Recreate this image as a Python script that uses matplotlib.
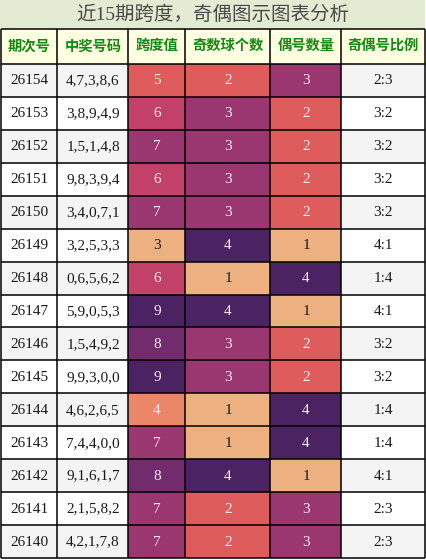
import numpy as np
import matplotlib
matplotlib.use("Agg")
import matplotlib.pyplot as plt
from matplotlib.patches import Rectangle
import seaborn as sns

periods = ["26154", "26153", "26152", "26151", "26150", "26149", "26148", "26147",
           "26146", "26145", "26144", "26143", "26142", "26141", "26140"]
draws = ["4,7,3,8,6", "3,8,9,4,9", "1,5,1,4,8", "9,8,3,9,4", "3,4,0,7,1",
         "3,2,5,3,3", "0,6,5,6,2", "5,9,0,5,3", "1,5,4,9,2", "9,9,3,0,0",
         "4,6,2,6,5", "7,4,4,0,0", "9,1,6,1,7", "2,1,5,8,2", "4,2,1,7,8"]
span = [5, 6, 7, 6, 7, 3, 6, 9, 8, 9, 4, 7, 8, 7, 7]
odd_cnt = [2, 3, 3, 3, 3, 4, 1, 4, 3, 3, 1, 1, 4, 2, 2]
even_cnt = [3, 2, 2, 2, 2, 1, 4, 1, 2, 2, 4, 4, 1, 3, 3]
ratio = ["2:3", "3:2", "3:2", "3:2", "3:2", "4:1", "1:4", "4:1",
         "3:2", "3:2", "1:4", "1:4", "4:1", "2:3", "2:3"]
headers = ["期次号", "中奖号码", "跨度值", "奇数球个数", "偶号数量", "奇偶号比例"]
title = "近15期跨度，奇偶图示图表分析"

W, H = 427, 560
fig = plt.figure(figsize=(W / 100, H / 100), dpi=100)
ax = fig.add_axes([0, 0, 1, 1])
ax.set_xlim(0, W)
ax.set_ylim(H, 0)
ax.axis("off")

col_x = [0.5, 57.5, 128.5, 185.5, 270.5, 341.5, 425]
title_h = 28.5
head_b = 64
row_h = (558 - head_b) / len(periods)
cmap = sns.color_palette("flare", as_cmap=True)

# title band
ax.add_patch(Rectangle((0, 0), col_x[-1], title_h, facecolor="#e3ebd3", edgecolor="none"))
ax.text(col_x[-1] / 2, title_h / 2 + 1, title, ha="center", va="center", fontsize=14,
        color="#4a4a4a", family=["Liberation Serif", "Noto Sans CJK SC"])

# header
ax.add_patch(Rectangle((col_x[0], title_h), col_x[-1] - col_x[0], head_b - title_h,
                       facecolor="#ffffe2", edgecolor="none"))
for j, h in enumerate(headers):
    ax.text((col_x[j] + col_x[j + 1]) / 2, (title_h + head_b) / 2, h, ha="center",
            va="center", fontsize=10.3, color="#138a13", fontweight="bold",
            family="Noto Sans CJK SC")


def lum(c):
    r, g, b = [((v / 12.92) if v <= 0.03928 else ((v + 0.055) / 1.055) ** 2.4) for v in c[:3]]
    return 0.2126 * r + 0.7152 * g + 0.0722 * b


heat_cols = {2: span, 3: odd_cnt, 4: even_cnt}
for i in range(len(periods)):
    y0 = head_b + i * row_h
    bg = "#f4f4f4" if i % 2 == 0 else "white"
    ax.add_patch(Rectangle((col_x[0], y0), col_x[-1] - col_x[0], row_h,
                           facecolor=bg, edgecolor="none"))
    cells = [periods[i], draws[i], span[i], odd_cnt[i], even_cnt[i], ratio[i]]
    for j, v in enumerate(cells):
        tc = "#1a1a1a"
        if j in heat_cols:
            vals = heat_cols[j]
            norm = (v - min(vals)) / (max(vals) - min(vals))
            fc = cmap(norm)
            ax.add_patch(Rectangle((col_x[j], y0), col_x[j + 1] - col_x[j], row_h,
                                   facecolor=fc, edgecolor="none"))
            tc = "#1a1a1a" if lum(fc) > 0.408 else "#f4ecf2"
        ax.text((col_x[j] + col_x[j + 1]) / 2, y0 + row_h / 2 + 0.5, str(v),
                ha="center", va="center", fontsize=11, color=tc,
                family="Liberation Serif")

# grid lines
y_lines = [title_h, head_b] + [head_b + (i + 1) * row_h for i in range(len(periods))]
for y in y_lines:
    ax.plot([col_x[0], col_x[-1]], [y, y], color="black", lw=1.1, solid_capstyle="butt")
for x in col_x:
    ax.plot([x, x], [title_h, y_lines[-1]], color="black", lw=1.1, solid_capstyle="butt")

fig.savefig("out.png", dpi=100)
